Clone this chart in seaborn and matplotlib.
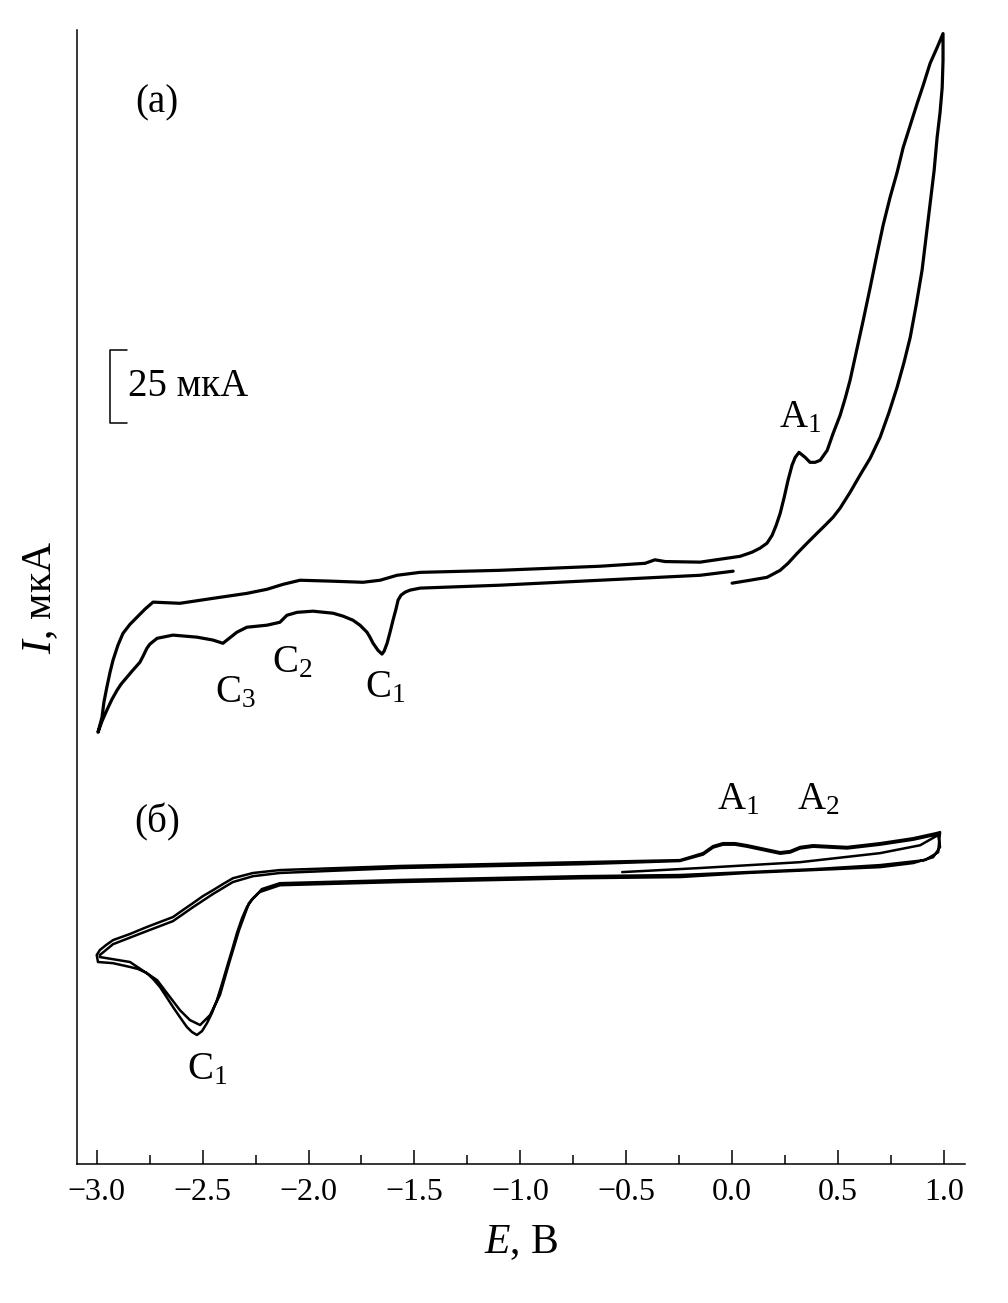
import numpy as np
import matplotlib
matplotlib.use("Agg")
import matplotlib.pyplot as plt
from matplotlib.ticker import MultipleLocator
import seaborn as sns

# curve (a): potential E (V) and current I (uA), one full cycle starting at 0 V
a_E = [0.005, -0.151, -0.623, -1.096, -1.473, -1.521, -1.544, -1.563, -1.577, -1.587,
       -1.601, -1.615, -1.629, -1.643, -1.653, -1.672, -1.695, -1.710, -1.724, -1.757,
       -1.790, -1.837, -1.884, -1.979, -2.054, -2.102, -2.135, -2.196, -2.291, -2.338,
       -2.404, -2.451, -2.527, -2.640, -2.715, -2.749, -2.763, -2.781, -2.796, -2.829,
       -2.857, -2.885, -2.904, -2.928, -2.952, -2.975, -2.994,
       -2.985, -2.975, -2.966, -2.952, -2.937, -2.923, -2.900, -2.876, -2.843, -2.810,
       -2.772, -2.734, -2.607, -2.451, -2.291, -2.196, -2.120, -2.040, -1.898, -1.743,
       -1.662, -1.582, -1.473, -1.096, -0.623, -0.411, -0.364, -0.316, -0.151, 0.038,
       0.094, 0.132, 0.165, 0.189, 0.208, 0.227, 0.246, 0.264, 0.283, 0.298,
       0.316, 0.345, 0.368, 0.392, 0.416, 0.449, 0.477, 0.510, 0.534, 0.557,
       0.586, 0.619, 0.652, 0.685, 0.713, 0.746, 0.779, 0.808, 0.841, 0.874,
       0.902, 0.935, 0.968, 0.996,
       0.996, 0.992, 0.982, 0.968, 0.954, 0.935, 0.916, 0.897, 0.869, 0.841,
       0.812, 0.779, 0.741, 0.699, 0.652, 0.604, 0.557, 0.510, 0.477, 0.439,
       0.401, 0.354, 0.307, 0.264, 0.227, 0.165, 0.085, 0.0]
a_I = [203.1, 201.7, 200.0, 198.3, 197.3, 196.6, 195.9, 194.9, 193.2, 190.1,
       186.3, 182.2, 178.4, 175.7, 174.7, 176.0, 178.4, 180.5, 182.2, 184.6,
       186.3, 187.7, 188.7, 189.4, 189.0, 188.0, 185.6, 184.6, 183.9, 182.2,
       178.4, 179.5, 180.5, 181.2, 180.1, 178.1, 176.7, 174.0, 171.9, 169.2,
       166.8, 164.4, 162.3, 159.2, 155.5, 151.7, 147.9,
       150.3, 153.1, 158.2, 163.4, 168.5, 172.6, 177.7, 181.8, 184.9, 187.3,
       190.1, 192.5, 192.1, 193.8, 195.5, 196.9, 198.6, 200.0, 199.7, 199.3,
       200.0, 201.7, 202.7, 203.4, 204.8, 205.8, 207.0, 206.4, 206.2, 208.2,
       209.6, 211.0, 212.7, 215.4, 218.8, 222.9, 228.4, 234.2, 239.4, 242.1,
       243.8, 242.1, 240.4, 240.4, 241.1, 244.5, 250.3, 256.5, 262.3, 268.5,
       278.1, 289.0, 300.3, 312.0, 321.6, 331.2, 339.7, 348.3, 355.8, 363.4,
       369.5, 377.1, 382.5, 387.3,
       378.1, 368.8, 360.3, 351.7, 340.4, 329.1, 317.5, 306.2, 294.2, 283.2,
       274.7, 266.1, 257.5, 249.0, 241.8, 236.0, 230.1, 224.7, 221.6, 218.8,
       216.1, 212.7, 209.2, 205.8, 203.4, 201.0, 200.0, 199.0]

# curve (b): repeated cycles, starting at -0.5 V
b_E = [-0.519, -0.151, 0.321, 0.699, 0.888, 0.973,
       0.982, 0.949, 0.855, 0.699, 0.383, 0.071, -0.246, -0.718, -1.568, -2.135,
       -2.229, -2.262, -2.291, -2.314, -2.338, -2.361, -2.385, -2.409, -2.432, -2.456,
       -2.479, -2.503, -2.527, -2.550, -2.574, -2.607, -2.640, -2.673, -2.701, -2.734,
       -2.763, -2.805, -2.843, -2.923, -2.994,
       -3.000, -2.985, -2.956, -2.923, -2.843, -2.763, -2.640, -2.593, -2.545, -2.498,
       -2.451, -2.404, -2.357, -2.262, -2.135,
       -1.568, -0.718, -0.246, -0.137, -0.090, -0.043, 0.014, 0.071, 0.227, 0.274,
       0.321, 0.383, 0.543, 0.699, 0.855, 0.968, 0.982,
       0.973, 0.911, 0.699, 0.383, 0.071, -0.246, -0.718, -1.568, -2.135, -2.220,
       -2.281, -2.328, -2.375, -2.418, -2.465, -2.512, -2.560, -2.607, -2.715, -2.843,
       -2.985,
       -2.985, -2.923, -2.763, -2.640, -2.545, -2.451, -2.357, -2.262, -2.135, -1.568,
       -0.718, -0.246, -0.137, -0.090, -0.043, 0.014, 0.071, 0.227, 0.274, 0.321,
       0.383, 0.543, 0.699, 0.855, 0.968]
b_I = [100.0, 101.4, 103.4, 106.5, 109.2, 112.7,
       108.6, 105.1, 103.1, 101.7, 100.7, 99.7, 98.3, 97.9, 96.6, 95.5,
       93.2, 91.1, 88.0, 84.2, 79.1, 73.3, 67.5, 61.6, 56.2, 51.7,
       48.3, 45.5, 44.2, 45.2, 46.9, 50.3, 53.8, 57.5, 60.6, 63.4,
       65.4, 66.8, 67.5, 68.8, 69.2,
       71.6, 73.3, 75.0, 76.7, 78.8, 81.2, 84.6, 87.0, 89.4, 91.8,
       93.8, 95.9, 97.9, 99.7, 100.7,
       102.1, 103.4, 104.1, 106.5, 108.9, 109.9, 109.9, 109.2, 106.8, 107.2,
       108.6, 109.2, 108.6, 109.9, 111.6, 113.4, 113.7,
       106.8, 104.1, 102.4, 101.0, 100.0, 99.0, 98.6, 97.3, 96.2, 94.2,
       89.4, 80.1, 68.8, 57.9, 51.0, 47.6, 49.3, 52.7, 63.0, 69.2,
       70.9,
       71.6, 75.3, 79.8, 83.2, 88.0, 92.5, 96.6, 98.6, 99.7, 101.4,
       102.7, 103.8, 106.0, 108.4, 109.4, 109.4, 108.7, 106.3, 106.7, 108.1,
       108.7, 108.1, 109.4, 111.1, 112.9]

x_ticks = [-3.0, -2.5, -2.0, -1.5, -1.0, -0.5, 0.0, 0.5, 1.0]
x_tick_labels = ["\u22123.0", "\u22122.5", "\u22122.0", "\u22121.5", "\u22121.0",
                 "\u22120.5", "0.0", "0.5", "1.0"]

sns.set_theme(style="ticks")
plt.rcParams["font.family"] = ["Liberation Serif", "DejaVu Serif"]
plt.rcParams["mathtext.fontset"] = "custom"
plt.rcParams["mathtext.rm"] = "Liberation Serif"
plt.rcParams["mathtext.it"] = "Liberation Serif:italic"
plt.rcParams["text.color"] = "black"
plt.rcParams["axes.labelcolor"] = "black"
plt.rcParams["xtick.color"] = "black"

fig = plt.figure(figsize=(10.08, 13.03), dpi=100)
ax = fig.add_axes([0.0764, 0.1067, 0.881, 0.870])

sns.lineplot(x=a_E, y=a_I, sort=False, estimator=None, color="black", lw=2.3, ax=ax)
sns.lineplot(x=b_E, y=b_I, sort=False, estimator=None, color="black", lw=1.8, ax=ax)

ax.set_xlim(-3.093, 1.100)
ax.set_ylim(0, 388.4)
ax.set_xticks(x_ticks)
ax.set_xticklabels(x_tick_labels, fontsize=23)
ax.xaxis.set_minor_locator(MultipleLocator(0.25))
ax.tick_params(axis="x", which="major", direction="in", length=10, width=1.1,
               color="black", pad=10, labelcolor="black")
ax.tick_params(axis="x", which="minor", direction="in", length=6.5, width=1.1,
               color="black")
ax.set_yticks([])
sns.despine(ax=ax)
for side in ["left", "bottom"]:
    ax.spines[side].set_linewidth(1.1)
    ax.spines[side].set_color("black")

ax.set_xlabel("$E$, В", fontsize=30, labelpad=12)
ax.set_ylabel("$I$, мкА", fontsize=30, labelpad=12)

# panel labels and peak names
ax.text(-2.716, 363.4, "(a)", fontsize=28, ha="center", va="center")
ax.text(-2.716, 117.1, "(б)", fontsize=28, ha="center", va="center")
ax.text(0.321, 255.5, "A$_1$", fontsize=28, ha="center", va="center")
ax.text(-2.347, 161.3, "C$_3$", fontsize=28, ha="center", va="center")
ax.text(-2.078, 171.6, "C$_2$", fontsize=28, ha="center", va="center")
ax.text(-1.639, 163.0, "C$_1$", fontsize=28, ha="center", va="center")
ax.text(0.028, 124.7, "A$_1$", fontsize=28, ha="center", va="center")
ax.text(0.406, 124.7, "A$_2$", fontsize=28, ha="center", va="center")
ax.text(-2.479, 32.2, "C$_1$", fontsize=28, ha="center", va="center")

# 25 uA scale bar
ax.plot([-2.857, -2.937, -2.937, -2.857], [278.8, 278.8, 253.8, 253.8],
        color="black", lw=1.1)
ax.text(-2.852, 266.3, "25 мкА", fontsize=28, ha="left", va="center")

fig.savefig("out.png", dpi=100)
